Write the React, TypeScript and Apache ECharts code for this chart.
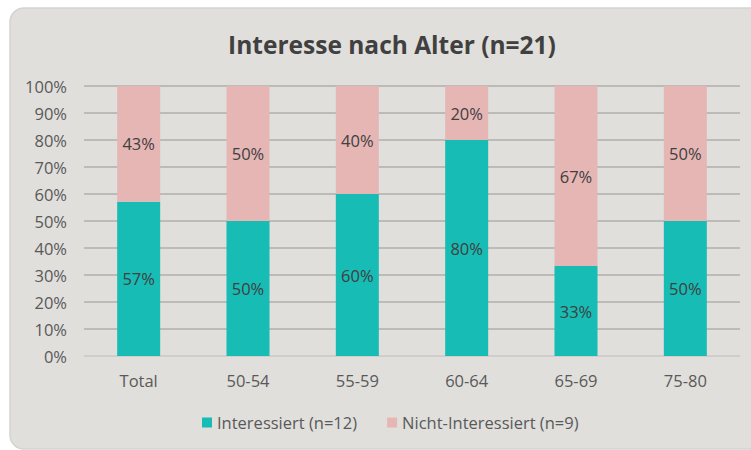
import React, { useEffect, useRef } from "react";
import * as echarts from "echarts";

const categories = ["Total", "50-54", "55-59", "60-64", "65-69", "75-80"];
const interessiert = [57.1, 50, 60, 80, 33.3, 50];
const nichtInteressiert = [42.9, 50, 40, 20, 66.7, 50];
const seriesNames = ["Interessiert (n=12)", "Nicht-Interessiert (n=9)"];
const titleText = "Interesse nach Alter (n=21)";

const FONT = "'Open Sans', 'Noto Sans', sans-serif";

export default function App() {
  const ref = useRef<HTMLDivElement>(null);
  useEffect(() => {
    if (!ref.current) return;
    const chart = echarts.init(ref.current, null, { renderer: "svg" });
    const labelCfg = {
      show: true,
      position: "inside",
      formatter: (p: any) => Math.round(p.value) + "%",
      color: "#404040",
      fontSize: 16.5,
      fontFamily: FONT,
    };
    chart.setOption({
      animation: false,
      backgroundColor: "#ffffff",
      graphic: [
        {
          type: "rect",
          z: -10,
          silent: true,
          shape: { x: 10, y: 8, width: 760, height: 441, r: 14 },
          style: { fill: "#e0dfdc", stroke: "#d3d3d3", lineWidth: 1.5 },
        },
      ],
      title: {
        text: titleText,
        left: 387,
        textAlign: "center",
        top: 27,
        textStyle: {
          fontFamily: FONT,
          fontWeight: "bold",
          fontSize: 24.5,
          color: "#404040",
        },
      },
      legend: {
        bottom: 14,
        left: 197,
        itemWidth: 10,
        itemHeight: 10,
        itemGap: 30,
        icon: "rect",
        textStyle: { fontFamily: FONT, fontSize: 16.5, color: "#595959" },
        data: seriesNames,
      },
      grid: { left: 84, right: 11, top: 86, bottom: 94 },
      xAxis: {
        type: "category",
        data: categories,
        axisTick: { show: false },
        axisLine: { lineStyle: { color: "#d6d5d2", width: 1.5 } },
        axisLabel: {
          fontFamily: FONT,
          fontSize: 16.5,
          color: "#595959",
          margin: 16,
        },
      },
      yAxis: {
        type: "value",
        min: 0,
        max: 100,
        interval: 10,
        axisLine: { show: false },
        axisTick: { show: false },
        axisLabel: {
          formatter: "{value}%",
          fontFamily: FONT,
          fontSize: 16.5,
          color: "#595959",
          margin: 17,
        },
        splitLine: { lineStyle: { color: "#b1afac", width: 1.5 } },
      },
      series: [
        {
          name: seriesNames[0],
          type: "bar",
          stack: "a",
          data: interessiert,
          barWidth: 43,
          itemStyle: { color: "#17bcb4" },
          label: labelCfg,
        },
        {
          name: seriesNames[1],
          type: "bar",
          stack: "a",
          data: nichtInteressiert,
          barWidth: 43,
          itemStyle: { color: "#e6b6b5" },
          label: labelCfg,
        },
      ],
    });
    return () => chart.dispose();
  }, []);
  return (
    <div
      ref={ref}
      style={{ position: "fixed", left: 0, top: 0, width: 751, height: 450 }}
    />
  );
}
